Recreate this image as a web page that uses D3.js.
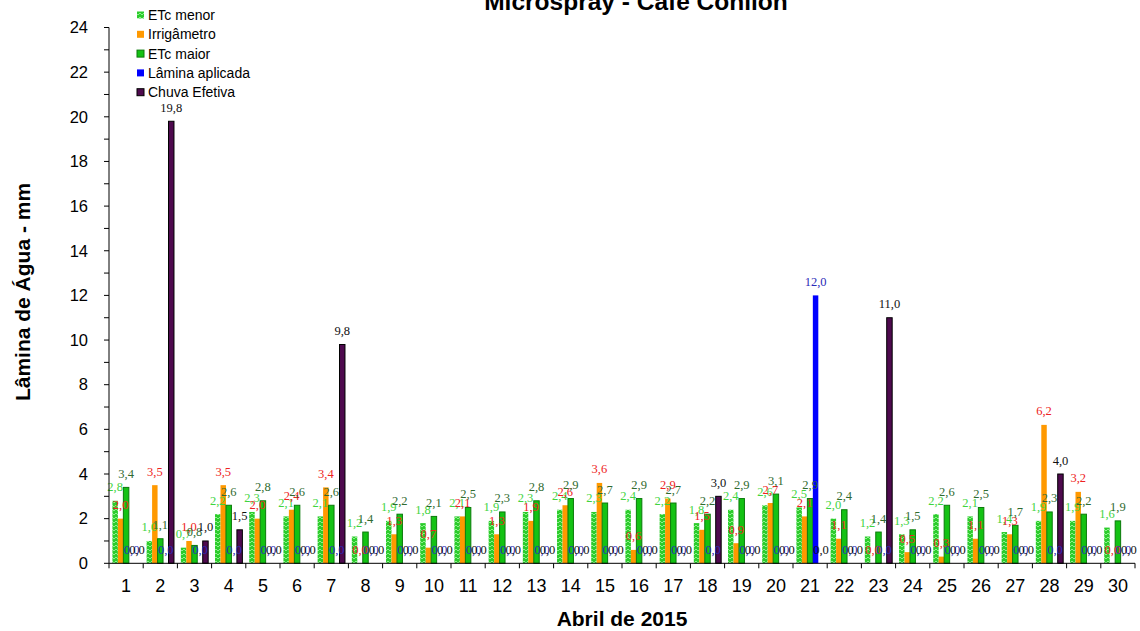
<!DOCTYPE html>
<html>
<head>
<meta charset="utf-8">
<script src="https://cdn.jsdelivr.net/npm/d3@7"></script>
<style>
  html, body { margin: 0; padding: 0; background: #fff; }
  svg { display: block; }
</style>
</head>
<body>
<svg id="chart" width="1140" height="631"></svg>
<script>
const days = ["1","2","3","4","5","6","7","8","9","10","11","12","13","14","15","16","17","18","19","20","21","22","23","24","25","26","27","28","29","30"];
const etcMenor = [2.8,1.0,0.7,2.2,2.3,2.1,2.1,1.2,1.9,1.8,2.1,1.9,2.3,2.4,2.3,2.4,2.2,1.8,2.4,2.6,2.5,2.0,1.2,1.3,2.2,2.1,1.4,1.9,1.9,1.6];
const irrigametro = [2.0,3.5,1.0,3.5,2.0,2.4,3.4,0.0,1.3,0.7,2.1,1.3,1.9,2.6,3.6,0.6,2.9,1.5,0.9,2.7,2.1,1.1,0.0,0.5,0.3,1.1,1.3,6.2,3.2,0.0];
const etcMaior = [3.4,1.1,0.8,2.6,2.8,2.6,2.6,1.4,2.2,2.1,2.5,2.3,2.8,2.9,2.7,2.9,2.7,2.2,2.9,3.1,2.9,2.4,1.4,1.5,2.6,2.5,1.7,2.3,2.2,1.9];
const laminaAplicada = [0,0,0,0,0,0,0,0,0,0,0,0,0,0,0,0,0,0,0,0,12.0,0,0,0,0,0,0,0,0,0];
const chuvaEfetiva = [0,19.8,1.0,1.5,0,0,9.8,0,0,0,0,0,0,0,0,0,0,3.0,0,0,0,0,11.0,0,0,0,0,4.0,0,0];
const seriesNames = ["ETc menor","Irrigâmetro","ETc maior","Lâmina aplicada","Chuva Efetiva"];
const yTicks = [0,2,4,6,8,10,12,14,16,18,20,22,24];

const seriesValues = [etcMenor, irrigametro, etcMaior, laminaAplicada, chuvaEfetiva];
const seriesStyle = [
  {fill: "url(#hatch)", stroke: "none", label: "#3fd43f"},
  {fill: "#ff9900", stroke: "none", label: "#ee2222"},
  {fill: "#14c214", stroke: "#0a7a0a", label: "#2f6b2f"},
  {fill: "#0000ff", stroke: "none", label: "#2a2ab8"},
  {fill: "#4e0a4e", stroke: "#000000", label: "#111111"}
];

const svg = d3.select("#chart");
const defs = svg.append("defs");
const pat = defs.append("pattern").attr("id","hatch").attr("patternUnits","userSpaceOnUse")
  .attr("width",4).attr("height",4);
pat.append("rect").attr("width",4).attr("height",4).attr("fill","#2ccc2c");
pat.append("path").attr("d","M0,1 L2,3 L4,1").attr("fill","none").attr("stroke","#8cf08c").attr("stroke-width",1);

const plotLeft = 109, plotRight = 1135, plotTop = 27.5, plotBottom = 563.3;
const x0 = d3.scaleBand().domain(days).range([plotLeft, plotRight]).paddingInner(0.2).paddingOuter(0.1);
const x1 = d3.scaleBand().domain(d3.range(seriesNames.length)).range([0, x0.bandwidth()]);
const y = d3.scaleLinear().domain([0, 24]).range([plotBottom, plotTop]);

const fmt = v => d3.format(".1f")(v).replace(".", ",");

// bars
seriesValues.forEach((vals, si) => {
  const st = seriesStyle[si];
  svg.append("g").selectAll("rect").data(vals).join("rect")
    .attr("x", (d,i) => x0(days[i]) + x1(si))
    .attr("width", x1.bandwidth())
    .attr("y", d => y(d))
    .attr("height", d => y(0) - y(d))
    .attr("fill", st.fill)
    .attr("stroke", d => d > 0 ? st.stroke : "none")
    .attr("stroke-width", 1);
});

// labels
seriesValues.forEach((vals, si) => {
  const st = seriesStyle[si];
  svg.append("g").selectAll("text").data(vals).join("text")
    .attr("x", (d,i) => x0(days[i]) + x1(si) + x1.bandwidth()/2)
    .attr("y", d => y(d) - 9.5)
    .attr("text-anchor", "middle")
    .attr("font-family", "'Liberation Serif', 'Times New Roman', serif")
    .attr("font-size", 12.5)
    .attr("fill", st.label)
    .text(d => fmt(d));
});

// y axis
const yAxis = svg.append("g");
yAxis.append("line").attr("x1", plotLeft).attr("x2", plotLeft).attr("y1", y(24)).attr("y2", y(0)).attr("stroke","#000");
yAxis.selectAll("line.tk").data(d3.range(0, 25, 1)).join("line").attr("class","tk")
  .attr("x1", plotLeft - 5).attr("x2", plotLeft).attr("y1", d => y(d)).attr("y2", d => y(d)).attr("stroke","#000");
yAxis.selectAll("text").data(yTicks).join("text")
  .attr("x", 88).attr("y", d => y(d)).attr("dy", "0.35em")
  .attr("text-anchor","end")
  .attr("font-family","'Liberation Sans', Arial, sans-serif").attr("font-size", 16.5)
  .attr("fill","#000")
  .text(d => d);

// x axis
const xAxis = svg.append("g");
xAxis.append("line").attr("x1", plotLeft).attr("x2", plotRight).attr("y1", y(0)).attr("y2", y(0)).attr("stroke","#000");
xAxis.selectAll("line.tk").data(d3.range(days.length + 1)).join("line").attr("class","tk")
  .attr("x1", i => plotLeft + i * x0.step()).attr("x2", i => plotLeft + i * x0.step())
  .attr("y1", y(0)).attr("y2", y(0) + 5).attr("stroke","#000");
xAxis.selectAll("text").data(days).join("text")
  .attr("x", d => x0(d) + x0.bandwidth()/2).attr("y", 591.5)
  .attr("text-anchor","middle")
  .attr("font-family","'Liberation Sans', Arial, sans-serif").attr("font-size", 18)
  .attr("fill","#000")
  .text(d => d);

// titles
svg.append("text").attr("x", 636).attr("y", 10).attr("text-anchor","middle")
  .attr("font-family","'Liberation Sans', Arial, sans-serif").attr("font-weight","bold").attr("font-size", 24.5)
  .text("Microspray - Café Conilon");
svg.append("text").attr("x", 622).attr("y", 626).attr("text-anchor","middle")
  .attr("font-family","'Liberation Sans', Arial, sans-serif").attr("font-weight","bold").attr("font-size", 21)
  .text("Abril de 2015");
svg.append("text").attr("transform","translate(30,292) rotate(-90)").attr("text-anchor","middle")
  .attr("font-family","'Liberation Sans', Arial, sans-serif").attr("font-weight","bold").attr("font-size", 21)
  .text("Lâmina de Água - mm");

// legend
const leg = svg.append("g");
seriesNames.forEach((name, i) => {
  const cy = 15 + i * 19.3;
  leg.append("rect").attr("x", 137).attr("y", cy - 3.5).attr("width", 7).attr("height", 7)
    .attr("fill", seriesStyle[i].fill)
    .attr("stroke", seriesStyle[i].stroke).attr("stroke-width", 1);
  leg.append("text").attr("x", 148).attr("y", cy).attr("dy","0.35em")
    .attr("font-family","'Liberation Sans', Arial, sans-serif").attr("font-size", 14)
    .attr("fill","#000")
    .text(name);
});
</script>
</body>
</html>
